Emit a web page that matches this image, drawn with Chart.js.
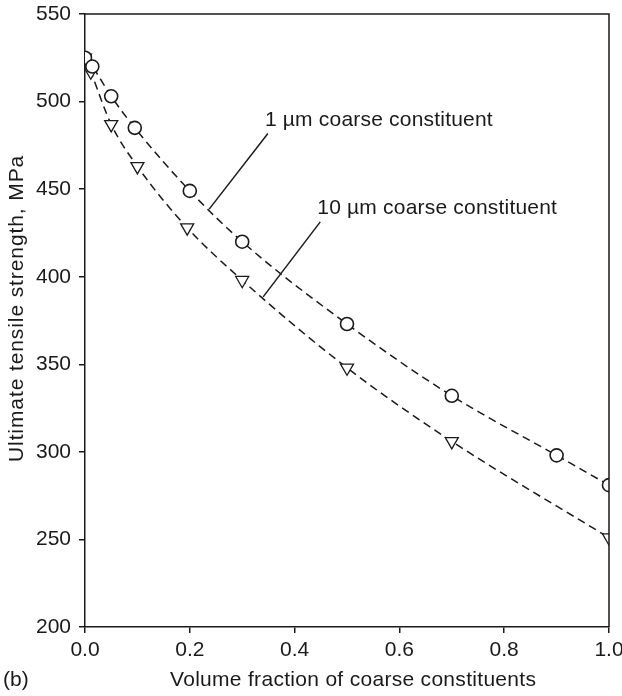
<!DOCTYPE html>
<html>
<head>
<meta charset="utf-8">
<script src="https://cdn.jsdelivr.net/npm/chart.js@4.4.1/dist/chart.umd.min.js"></script>
<style>
  html, body { margin: 0; padding: 0; background: #fff; }
  #wrap { width: 622px; height: 696px; }
</style>
</head>
<body>
<div id="wrap"><canvas id="grafico" width="622" height="696"></canvas></div>
<script>
// valores (b)
const fracao1um = [0, 0.014, 0.05, 0.095, 0.2, 0.3, 0.5, 0.7, 0.9, 1.0];
const resist1um = [525, 520, 503, 485, 449, 420, 373, 332, 298, 281];

const fracao10um = [0, 0.011, 0.05, 0.1, 0.195, 0.3, 0.5, 0.7, 1.0];
const resist10um = [525, 517, 487, 463, 428, 398, 348, 306, 251];

const ticksX = [0, 0.2, 0.4, 0.6, 0.8, 1.0];
const ticksY = [200, 250, 300, 350, 400, 450, 500, 550];

// rótulos e linhas de chamada (em unidades dos eixos)
const rotulos = ['1 \u00b5m coarse constituent', '10 \u00b5m coarse constituent'];
const chamadaX = [[0.349, 0.237], [0.449, 0.340]];
const chamadaY = [[481.8, 438.6], [431.3, 388.5]];

const corTraco = '#1a1a1a';
const fonte = '"Liberation Sans", Arial, sans-serif';

function pares(xs, ys) {
    return xs.map((x, i) => ({ x: x, y: ys[i] }));
}

function texto(ctx, str, x, y, espaco) {
    ctx.letterSpacing = espaco + 'px';
    ctx.fillText(str, x, y);
    ctx.letterSpacing = '0px';
}

const pluginMoldura = {
    id: 'moldura',
    afterDraw(chart) {
        const ctx = chart.ctx;
        const a = chart.chartArea;
        const sx = chart.scales.x;
        const sy = chart.scales.y;
        ctx.save();
        // topo e lado direito
        ctx.strokeStyle = corTraco;
        ctx.lineWidth = 1.5;
        ctx.beginPath();
        ctx.moveTo(a.left, a.top);
        ctx.lineTo(a.right, a.top);
        ctx.lineTo(a.right, a.bottom);
        ctx.stroke();

        // linhas de chamada
        chamadaX.forEach((xs, i) => {
            ctx.beginPath();
            ctx.moveTo(sx.getPixelForValue(xs[0]), sy.getPixelForValue(chamadaY[i][0]));
            ctx.lineTo(sx.getPixelForValue(xs[1]), sy.getPixelForValue(chamadaY[i][1]));
            ctx.stroke();
        });

        ctx.fillStyle = '#1a1a1a';
        ctx.font = '21px ' + fonte;
        ctx.textBaseline = 'middle';
        ctx.textAlign = 'left';
        texto(ctx, rotulos[0], sx.getPixelForValue(chamadaX[0][0]) - 3, sy.getPixelForValue(chamadaY[0][0]) - 13, 0.2);
        texto(ctx, rotulos[1], sx.getPixelForValue(chamadaX[1][0]) - 3, sy.getPixelForValue(chamadaY[1][0]) - 14, 0.2);

        // títulos dos eixos
        ctx.textAlign = 'left';
        texto(ctx, 'Volume fraction of coarse constituents', 170, 680, 0.3);
        texto(ctx, '(b)', 3, 680, 0);

        ctx.translate(17, 462);
        ctx.rotate(-Math.PI / 2);
        texto(ctx, 'Ultimate tensile strength, MPa', 0, 0, 0.9);
        ctx.restore();
    }
};

const ctx = document.getElementById('grafico').getContext('2d');
new Chart(ctx, {
    type: 'scatter',
    data: {
        datasets: [
            {
                label: '1 um',
                data: pares(fracao1um, resist1um),
                showLine: true,
                borderColor: corTraco,
                borderWidth: 1.5,
                borderDash: [8, 5],
                cubicInterpolationMode: 'monotone',
                pointStyle: 'circle',
                pointRadius: 6.5,
                pointBorderWidth: 1.6,
                pointBackgroundColor: '#fff',
                pointBorderColor: corTraco
            },
            {
                label: '10 um',
                data: pares(fracao10um, resist10um),
                showLine: true,
                borderColor: corTraco,
                borderWidth: 1.5,
                borderDash: [8, 5],
                cubicInterpolationMode: 'monotone',
                pointStyle: 'triangle',
                pointRotation: 180,
                pointRadius: 7.5,
                pointBorderWidth: 1.3,
                pointBackgroundColor: '#fff',
                pointBorderColor: corTraco
            }
        ]
    },
    options: {
        responsive: false,
        animation: false,
        devicePixelRatio: 1,
        layout: { padding: { top: 14, right: 13, left: 0, bottom: 0 } },
        plugins: {
            legend: { display: false },
            tooltip: { enabled: false }
        },
        scales: {
            x: {
                type: 'linear',
                min: 0,
                max: 1,
                afterBuildTicks: s => { s.ticks = ticksX.map(v => ({ value: v })); },
                afterFit: s => { s.height = 69; s.paddingLeft = 0; s.paddingRight = 0; },
                grid: { drawOnChartArea: false, drawTicks: true, tickLength: 6, color: corTraco, lineWidth: 1.5 },
                border: { display: true, color: corTraco, width: 1.5 },
                ticks: {
                    padding: 5,
                    color: '#1a1a1a',
                    font: { family: fonte, size: 21 },
                    maxRotation: 0,
                    callback: v => v.toFixed(1)
                }
            },
            y: {
                type: 'linear',
                min: 200,
                max: 550,
                afterBuildTicks: s => { s.ticks = ticksY.map(v => ({ value: v })); },
                afterFit: s => { s.width = 85; s.paddingTop = 0; s.paddingBottom = 0; },
                grid: { drawOnChartArea: false, drawTicks: true, tickLength: 6, color: corTraco, lineWidth: 1.5 },
                border: { display: true, color: corTraco, width: 1.5 },
                ticks: {
                    padding: 8,
                    color: '#1a1a1a',
                    font: { family: fonte, size: 21 }
                }
            }
        }
    },
    plugins: [pluginMoldura]
});
</script>
</body>
</html>
